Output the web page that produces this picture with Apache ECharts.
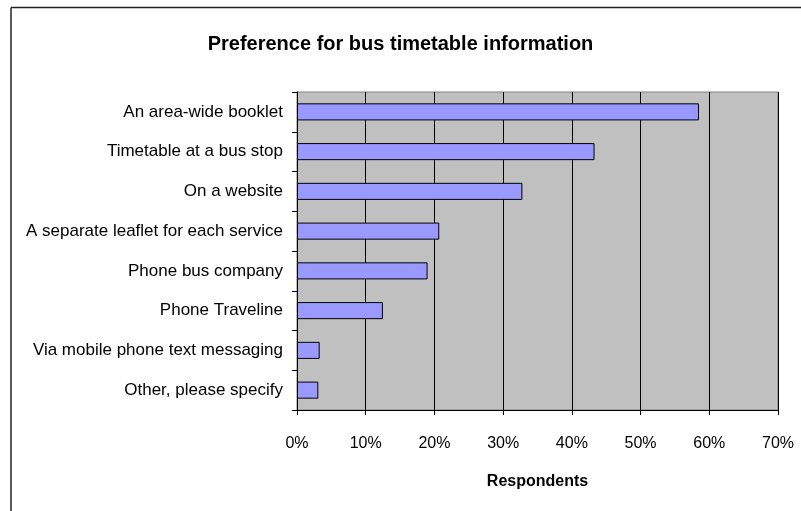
<!DOCTYPE html>
<html>
<head>
<meta charset="utf-8">
<script src="https://cdn.jsdelivr.net/npm/echarts@6/dist/echarts.min.js"></script>
<style>
html,body{margin:0;padding:0;background:#fff;}
#c{width:801px;height:511px;}
</style>
</head>
<body>
<div id="c"></div>
<script>
var titleText = 'Preference for bus timetable information';
var categories = [
  'An area-wide booklet',
  'Timetable at a bus stop',
  'On a website',
  'A separate leaflet for each service',
  'Phone bus company',
  'Phone Traveline',
  'Via mobile phone text messaging',
  'Other, please specify'
];
var values = [58.5, 43.3, 32.8, 20.7, 19.0, 12.5, 3.3, 3.1];
var xAxisName = 'Respondents';

var FONT = '"Liberation Sans", Arial, sans-serif';
var chart = echarts.init(document.getElementById('c'), null, {renderer: 'canvas'});
chart.setOption({
  animation: false,
  backgroundColor: '#ffffff',
  title: {
    text: titleText,
    left: 'center',
    top: 29,
    textStyle: {fontFamily: FONT, fontSize: 20, fontWeight: 'bold', color: '#000'}
  },
  graphic: [
    {type: 'line', shape: {x1: 11, y1: 7.5, x2: 801, y2: 7.5}, style: {stroke: '#222', lineWidth: 1.5}},
    {type: 'line', shape: {x1: 11, y1: 7.5, x2: 11, y2: 511}, style: {stroke: '#222', lineWidth: 1.5}}
  ],
  grid: {
    left: 297, right: 23, top: 92, bottom: 101,
    outerBoundsMode: 'none',
    containLabel: false,
    show: true,
    backgroundColor: '#C0C0C0',
    borderColor: '#808080',
    borderWidth: 1
  },
  xAxis: {
    type: 'value',
    min: 0, max: 70, interval: 10,
    name: xAxisName,
    nameLocation: 'middle',
    nameGap: 64,
    nameTextStyle: {fontFamily: FONT, fontSize: 16, fontWeight: 'bold', color: '#000'},
    axisLine: {show: true, lineStyle: {color: '#000', width: 1}},
    axisTick: {show: true, length: 5, lineStyle: {color: '#000'}},
    axisLabel: {formatter: '{value}%', margin: 26, fontFamily: FONT, fontSize: 16, color: '#000'},
    splitLine: {show: true, lineStyle: {color: '#000', width: 1}}
  },
  yAxis: {
    type: 'category',
    data: categories,
    inverse: true,
    axisLine: {show: true, lineStyle: {color: '#000', width: 1}},
    axisTick: {show: true, length: 5, lineStyle: {color: '#000'}},
    axisLabel: {margin: 14, fontFamily: FONT, fontSize: 17, color: '#000'},
    splitLine: {show: false}
  },
  series: [{
    type: 'bar',
    data: values,
    barWidth: '43%',
    itemStyle: {color: '#9999FF', borderColor: '#000', borderWidth: 1}
  }]
});
</script>
</body>
</html>
